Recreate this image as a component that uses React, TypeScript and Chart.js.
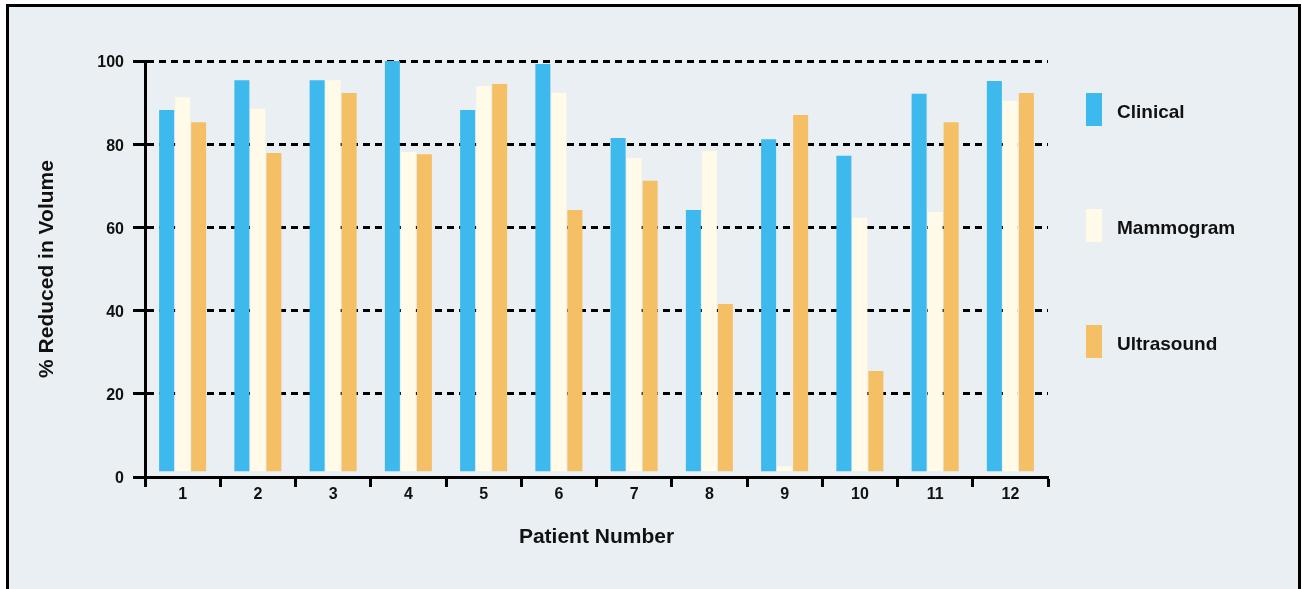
import React, { useEffect, useRef } from "react";
import { Chart, registerables } from "chart.js";

Chart.register(...registerables);

const patients = ["1", "2", "3", "4", "5", "6", "7", "8", "9", "10", "11", "12"];
const seriesLabels = ["Clinical", "Mammogram", "Ultrasound"];
const clinical = [88.2, 95.4, 95.4, 100, 88.2, 99.3, 81.5, 64.2, 81.2, 77.2, 92.1, 95.2];
const mammogram = [91.3, 88.5, 95.4, 78.1, 94.0, 92.3, 76.7, 78.4, 2.6, 62.3, 63.7, 90.4];
const ultrasound = [85.3, 77.9, 92.3, 77.6, 94.5, 64.2, 71.2, 41.6, 87.0, 25.5, 85.3, 92.3];
const yTickValues = [0, 20, 40, 60, 80, 100];
const barBase = 1.4;

const colors = ["#3DB9EE", "#FFFBE8", "#F5C065"];
const FONT = "'Liberation Sans', Arial, sans-serif";

const sideLegend = {
  id: "sideLegend",
  afterDraw(chart: any) {
    const ctx = chart.ctx;
    chart.data.datasets.forEach((ds: any, i: number) => {
      const top = 86 + i * 116;
      ctx.save();
      ctx.fillStyle = ds.backgroundColor;
      ctx.fillRect(1077, top, 16, 33);
      ctx.fillStyle = "#111";
      ctx.font = `bold 19px ${FONT}`;
      ctx.textBaseline = "middle";
      ctx.textAlign = "left";
      ctx.fillText(ds.label, 1108, top + 19.5);
      ctx.restore();
    });
  },
};

export default function App() {
  const ref = useRef<HTMLCanvasElement>(null);
  useEffect(() => {
    if (!ref.current) return;
    const seriesData = [clinical, mammogram, ultrasound];
    const chart = new Chart(ref.current, {
      type: "bar",
      data: {
        labels: patients,
        datasets: seriesLabels.map((label, i) => ({
          label,
          data: seriesData[i],
          backgroundColor: colors[i],
          borderWidth: 0,
          base: barBase,
          barPercentage: 0.9375,
          categoryPercentage: 0.638,
        })),
      },
      options: {
        responsive: false,
        animation: false,
        devicePixelRatio: 1,
        layout: { padding: { top: 54, right: 250, bottom: 0, left: 0 } },
        plugins: {
          legend: { display: false },
          tooltip: { enabled: false },
        },
        scales: {
          x: {
            afterFit: (s: any) => {
              s.height = 112;
            },
            grid: {
              display: true,
              drawOnChartArea: false,
              drawTicks: true,
              offset: true,
              tickLength: 10,
              tickColor: "#000",
              tickWidth: 3,
              color: "#000",
            },
            border: { display: true, color: "#000", width: 3 },
            ticks: {
              color: "#111",
              font: { family: FONT, size: 16, weight: "bold", lineHeight: 1 },
              padding: 0,
              autoSkip: false,
              maxRotation: 0,
            },
            title: {
              display: true,
              text: "Patient Number",
              color: "#111",
              font: { family: FONT, size: 21, weight: "bold", lineHeight: 1.2 },
              padding: { top: 0, bottom: 39.4 },
            },
          },
          y: {
            min: 0,
            max: 100,
            afterFit: (s: any) => {
              s.width = 136;
            },
            afterBuildTicks: (s: any) => {
              s.ticks = yTickValues.map((v) => ({ value: v }));
            },
            grid: {
              display: true,
              color: "#000",
              lineWidth: 3,
              drawTicks: true,
              tickLength: 12,
              tickColor: "#000",
              tickWidth: 3,
            },
            border: { display: true, color: "#000", width: 3, dash: [7, 5] },
            ticks: {
              color: "#111",
              font: { family: FONT, size: 16, weight: "bold" },
              padding: 9,
              labelOffset: 2,
            },
            title: {
              display: true,
              text: "% Reduced in Volume",
              color: "#111",
              font: { family: FONT, size: 21, weight: "bold", lineHeight: 1.2 },
              padding: { top: 25.4, bottom: 0 },
            },
          },
        },
      },
      plugins: [sideLegend],
    } as any);
    return () => chart.destroy();
  }, []);

  return (
    <div
      style={{
        position: "absolute",
        left: 6,
        top: 4,
        width: 1295,
        height: 585,
        boxSizing: "border-box",
        border: "3px solid #000",
        borderBottom: "none",
        background: "#E9EFF2",
        overflow: "hidden",
      }}
    >
      <canvas ref={ref} width={1289} height={582} style={{ display: "block", width: 1289, height: 582 }} />
    </div>
  );
}
